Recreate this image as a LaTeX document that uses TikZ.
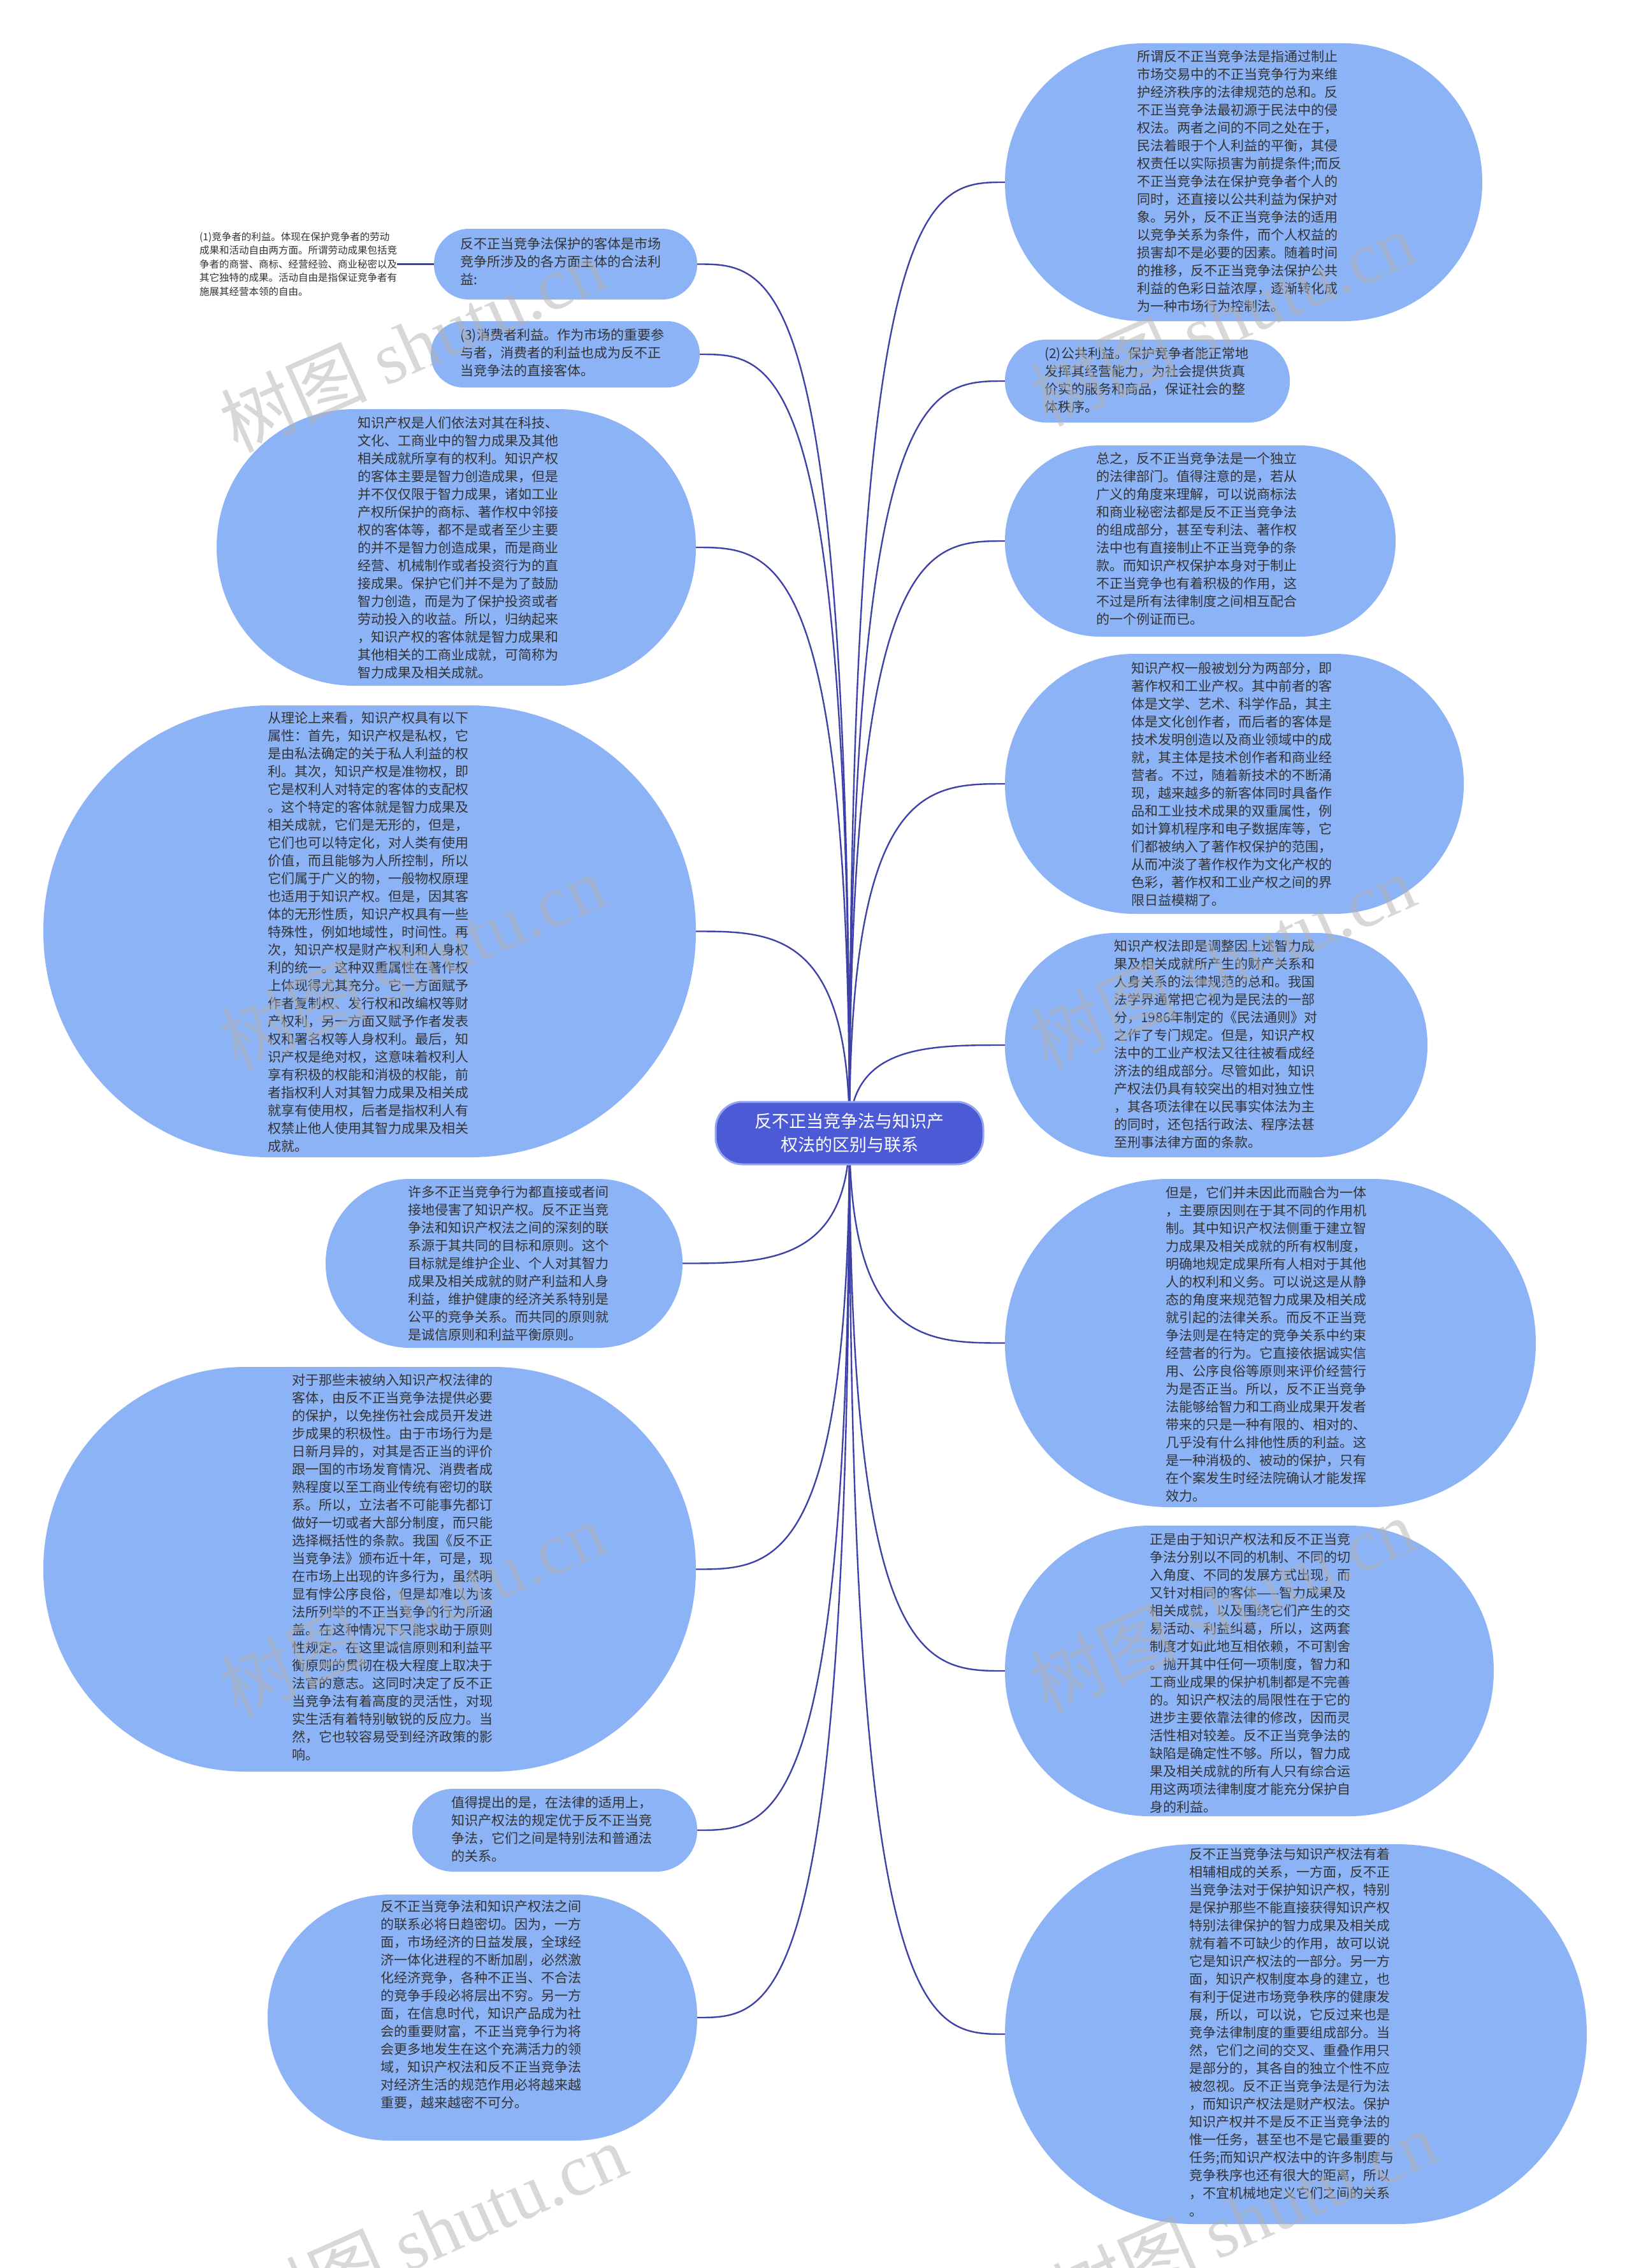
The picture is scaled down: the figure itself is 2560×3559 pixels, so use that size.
\documentclass[tikz,border=0pt]{standalone}
\usepackage{fontspec}
\setmainfont{Noto Sans CJK SC}
\newfontfamily\wmserif{Liberation Serif}
\usetikzlibrary{calc,backgrounds}
\definecolor{bubfill}{RGB}{141,179,247}
\definecolor{edgecol}{RGB}{62,66,168}
\definecolor{ctrfill}{RGB}{76,90,214}
\definecolor{ctrdraw}{RGB}{150,165,240}
\definecolor{txtcol}{RGB}{51,51,51}
\tikzset{
  bub/.style={draw=none, fill=bubfill, rectangle, inner sep=0pt},
  txt/.style={anchor=north west, inner sep=0pt, align=left, text=txtcol, font=\fontsize{21}{28}\selectfont},
  smalltxt/.style={anchor=west, inner sep=0pt, align=left, text=txtcol, font=\fontsize{15.5}{21.5}\selectfont},
  link/.style={draw=edgecol, line width=2.4pt},
  ctrbox/.style={rectangle, fill=ctrfill, draw=ctrdraw, line width=3pt, rounded corners=42pt, minimum width=420pt, minimum height=98pt, text=white, align=center, font=\fontsize{27}{37}\selectfont},
  wm/.style={text=black!30, opacity=0.5, rotate=24, inner sep=0pt, font=\fontsize{115}{120}\selectfont}
}
\newcommand\linkR[1]{\draw[link] (ctr.center) .. controls (ctr.center |- #1.west) and ($(ctr.center |- #1.west)!0.5!(#1.west)$) .. (#1.west);}
\newcommand\linkL[1]{\draw[link] (ctr.center) .. controls (ctr.center |- #1.east) and ($(ctr.center |- #1.east)!0.5!(#1.east)$) .. (#1.east);}
\begin{document}
\begin{tikzpicture}[x=1pt,y=-1pt]
\useasboundingbox (0,0) rectangle (2560,3559);

% ---------- bubbles ----------
\node[bub, minimum width=413pt, minimum height=111pt, rounded corners=55pt] (l1) at (887.5,414.5) {};
\node[bub, minimum width=422pt, minimum height=104pt, rounded corners=51pt] (l2) at (887,556) {};
\node[bub, minimum width=752pt, minimum height=434pt, rounded corners=216pt] (l3) at (716,859) {};
\node[bub, minimum width=1024pt, minimum height=709pt, rounded corners=354pt] (l4) at (580,1461.5) {};
\node[bub, minimum width=560pt, minimum height=265pt, rounded corners=132pt] (l5) at (791,1982.5) {};
\node[bub, minimum width=1024pt, minimum height=635pt, rounded corners=317pt] (l6) at (580,2462.5) {};
\node[bub, minimum width=447pt, minimum height=130pt, rounded corners=64pt] (l7) at (870.5,2872) {};
\node[bub, minimum width=674pt, minimum height=386pt, rounded corners=192pt] (l8) at (757,3166) {};

\node[bub, minimum width=749pt, minimum height=436pt, rounded corners=217pt] (r1) at (1951.5,286) {};
\node[bub, minimum width=447pt, minimum height=130pt, rounded corners=64pt] (r2) at (1800.5,598) {};
\node[bub, minimum width=613pt, minimum height=300pt, rounded corners=149pt] (r3) at (1883.5,849) {};
\node[bub, minimum width=720pt, minimum height=408pt, rounded corners=203pt] (r4) at (1937,1230) {};
\node[bub, minimum width=663pt, minimum height=352pt, rounded corners=175pt] (r5) at (1908.5,1640) {};
\node[bub, minimum width=833pt, minimum height=515pt, rounded corners=257pt] (r6) at (1993.5,2107.5) {};
\node[bub, minimum width=767pt, minimum height=456pt, rounded corners=227pt] (r7) at (1960.5,2622) {};
\node[bub, minimum width=913pt, minimum height=596pt, rounded corners=297pt] (r8) at (2033.5,3192) {};

% ---------- centre ----------
\node[ctrbox] (ctr) at (1333,1778) {反不正当竞争法与知识产\\权法的区别与联系};

% ---------- connectors ----------
\begin{pgfonlayer}{background}
\fill[white] (0,0) rectangle (2560,3559);
\linkR{r1}\linkR{r2}\linkR{r3}\linkR{r4}\linkR{r5}\linkR{r6}\linkR{r7}\linkR{r8}
\linkL{l1}\linkL{l2}\linkL{l3}\linkL{l4}\linkL{l5}\linkL{l6}\linkL{l7}\linkL{l8}
\end{pgfonlayer}

% ---------- texts ----------
\node[smalltxt] (l0) at (313,414.5) {(1)竞争者的利益。体现在保护竞争者的劳动\\成果和活动自由两方面。所谓劳动成果包括竞\\争者的商誉、商标、经营经验、商业秘密以及\\其它独特的成果。活动自由是指保证竞争者有\\施展其经营本领的自由。};
\draw[link] (l0.east) -- (l1.west);

\node[txt] (l1t) at (722,372) {反不正当竞争法保护的客体是市场\\竞争所涉及的各方面主体的合法利\\益:};
\node[txt] (l2t) at (722,515) {(3)消费者利益。作为市场的重要参\\与者，消费者的利益也成为反不正\\当竞争法的直接客体。};
\node[txt] (l3t) at (561,654) {知识产权是人们依法对其在科技、\\文化、工商业中的智力成果及其他\\相关成就所享有的权利。知识产权\\的客体主要是智力创造成果，但是\\并不仅仅限于智力成果，诸如工业\\产权所保护的商标、著作权中邻接\\权的客体等，都不是或者至少主要\\的并不是智力创造成果，而是商业\\经营、机械制作或者投资行为的直\\接成果。保护它们并不是为了鼓励\\智力创造，而是为了保护投资或者\\劳动投入的收益。所以，归纳起来\\，知识产权的客体就是智力成果和\\其他相关的工商业成就，可简称为\\智力成果及相关成就。};
\node[txt] (l4t) at (420,1117) {从理论上来看，知识产权具有以下\\属性：首先，知识产权是私权，它\\是由私法确定的关于私人利益的权\\利。其次，知识产权是准物权，即\\它是权利人对特定的客体的支配权\\。这个特定的客体就是智力成果及\\相关成就，它们是无形的，但是，\\它们也可以特定化，对人类有使用\\价值，而且能够为人所控制，所以\\它们属于广义的物，一般物权原理\\也适用于知识产权。但是，因其客\\体的无形性质，知识产权具有一些\\特殊性，例如地域性，时间性。再\\次，知识产权是财产权利和人身权\\利的统一。这种双重属性在著作权\\上体现得尤其充分。它一方面赋予\\作者复制权、发行权和改编权等财\\产权利，另一方面又赋予作者发表\\权和署名权等人身权利。最后，知\\识产权是绝对权，这意味着权利人\\享有积极的权能和消极的权能，前\\者指权利人对其智力成果及相关成\\就享有使用权，后者是指权利人有\\权禁止他人使用其智力成果及相关\\成就。};
\node[txt] (l5t) at (640,1861) {许多不正当竞争行为都直接或者间\\接地侵害了知识产权。反不正当竞\\争法和知识产权法之间的深刻的联\\系源于其共同的目标和原则。这个\\目标就是维护企业、个人对其智力\\成果及相关成就的财产利益和人身\\利益，维护健康的经济关系特别是\\公平的竞争关系。而共同的原则就\\是诚信原则和利益平衡原则。};
\node[txt] (l6t) at (458,2156) {对于那些未被纳入知识产权法律的\\客体，由反不正当竞争法提供必要\\的保护，以免挫伤社会成员开发进\\步成果的积极性。由于市场行为是\\日新月异的，对其是否正当的评价\\跟一国的市场发育情况、消费者成\\熟程度以至工商业传统有密切的联\\系。所以，立法者不可能事先都订\\做好一切或者大部分制度，而只能\\选择概括性的条款。我国《反不正\\当竞争法》颁布近十年，可是，现\\在市场上出现的许多行为，虽然明\\显有悖公序良俗，但是却难以为该\\法所列举的不正当竞争的行为所涵\\盖。在这种情况下只能求助于原则\\性规定。在这里诚信原则和利益平\\衡原则的贯彻在极大程度上取决于\\法官的意志。这同时决定了反不正\\当竞争法有着高度的灵活性，对现\\实生活有着特别敏锐的反应力。当\\然，它也较容易受到经济政策的影\\响。};
\node[txt] (l7t) at (708,2819) {值得提出的是，在法律的适用上，\\知识产权法的规定优于反不正当竞\\争法，它们之间是特别法和普通法\\的关系。};
\node[txt] (l8t) at (597,2982) {反不正当竞争法和知识产权法之间\\的联系必将日趋密切。因为，一方\\面，市场经济的日益发展，全球经\\济一体化进程的不断加剧，必然激\\化经济竞争，各种不正当、不合法\\的竞争手段必将层出不穷。另一方\\面，在信息时代，知识产品成为社\\会的重要财富，不正当竞争行为将\\会更多地发生在这个充满活力的领\\域，知识产权法和反不正当竞争法\\对经济生活的规范作用必将越来越\\重要，越来越密不可分。};

\node[txt] (r1t) at (1784,79) {所谓反不正当竞争法是指通过制止\\市场交易中的不正当竞争行为来维\\护经济秩序的法律规范的总和。反\\不正当竞争法最初源于民法中的侵\\权法。两者之间的不同之处在于，\\民法着眼于个人利益的平衡，其侵\\权责任以实际损害为前提条件;而反\\不正当竞争法在保护竞争者个人的\\同时，还直接以公共利益为保护对\\象。另外，反不正当竞争法的适用\\以竞争关系为条件，而个人权益的\\损害却不是必要的因素。随着时间\\的推移，反不正当竞争法保护公共\\利益的色彩日益浓厚，逐渐转化成\\为一种市场行为控制法。};
\node[txt] (r2t) at (1639,545) {(2)公共利益。保护竞争者能正常地\\发挥其经营能力，为社会提供货真\\价实的服务和商品，保证社会的整\\体秩序。};
\node[txt] (r3t) at (1720,710) {总之，反不正当竞争法是一个独立\\的法律部门。值得注意的是，若从\\广义的角度来理解，可以说商标法\\和商业秘密法都是反不正当竞争法\\的组成部分，甚至专利法、著作权\\法中也有直接制止不正当竞争的条\\款。而知识产权保护本身对于制止\\不正当竞争也有着积极的作用，这\\不过是所有法律制度之间相互配合\\的一个例证而已。};
\node[txt] (r4t) at (1775,1039) {知识产权一般被划分为两部分，即\\著作权和工业产权。其中前者的客\\体是文学、艺术、科学作品，其主\\体是文化创作者，而后者的客体是\\技术发明创造以及商业领域中的成\\就，其主体是技术创作者和商业经\\营者。不过，随着新技术的不断涌\\现，越来越多的新客体同时具备作\\品和工业技术成果的双重属性，例\\如计算机程序和电子数据库等，它\\们都被纳入了著作权保护的范围，\\从而冲淡了著作权作为文化产权的\\色彩，著作权和工业产权之间的界\\限日益模糊了。};
\node[txt] (r5t) at (1748,1475) {知识产权法即是调整因上述智力成\\果及相关成就所产生的财产关系和\\人身关系的法律规范的总和。我国\\法学界通常把它视为是民法的一部\\分，1986年制定的《民法通则》对\\之作了专门规定。但是，知识产权\\法中的工业产权法又往往被看成经\\济法的组成部分。尽管如此，知识\\产权法仍具有较突出的相对独立性\\，其各项法律在以民事实体法为主\\的同时，还包括行政法、程序法甚\\至刑事法律方面的条款。};
\node[txt] (r6t) at (1829,1861) {但是，它们并未因此而融合为一体\\，主要原因则在于其不同的作用机\\制。其中知识产权法侧重于建立智\\力成果及相关成就的所有权制度，\\明确地规定成果所有人相对于其他\\人的权利和义务。可以说这是从静\\态的角度来规范智力成果及相关成\\就引起的法律关系。而反不正当竞\\争法则是在特定的竞争关系中约束\\经营者的行为。它直接依据诚实信\\用、公序良俗等原则来评价经营行\\为是否正当。所以，反不正当竞争\\法能够给智力和工商业成果开发者\\带来的只是一种有限的、相对的、\\几乎没有什么排他性质的利益。这\\是一种消极的、被动的保护，只有\\在个案发生时经法院确认才能发挥\\效力。};
\node[txt] (r7t) at (1804,2406) {正是由于知识产权法和反不正当竞\\争法分别以不同的机制、不同的切\\入角度、不同的发展方式出现，而\\又针对相同的客体——智力成果及\\相关成就，以及围绕它们产生的交\\易活动、利益纠葛，所以，这两套\\制度才如此地互相依赖，不可割舍\\。抛开其中任何一项制度，智力和\\工商业成果的保护机制都是不完善\\的。知识产权法的局限性在于它的\\进步主要依靠法律的修改，因而灵\\活性相对较差。反不正当竞争法的\\缺陷是确定性不够。所以，智力成\\果及相关成就的所有人只有综合运\\用这两项法律制度才能充分保护自\\身的利益。};
\node[txt] (r8t) at (1866,2900) {反不正当竞争法与知识产权法有着\\相辅相成的关系，一方面，反不正\\当竞争法对于保护知识产权，特别\\是保护那些不能直接获得知识产权\\特别法律保护的智力成果及相关成\\就有着不可缺少的作用，故可以说\\它是知识产权法的一部分。另一方\\面，知识产权制度本身的建立，也\\有利于促进市场竞争秩序的健康发\\展，所以，可以说，它反过来也是\\竞争法律制度的重要组成部分。当\\然，它们之间的交叉、重叠作用只\\是部分的，其各自的独立个性不应\\被忽视。反不正当竞争法是行为法\\，而知识产权法是财产权法。保护\\知识产权并不是反不正当竞争法的\\惟一任务，甚至也不是它最重要的\\任务;而知识产权法中的许多制度与\\竞争秩序也还有很大的距离，所以\\，不宜机械地定义它们之间的关系\\。};

% ---------- watermarks ----------
\node[wm] (w1) at (647,540) {树图 {\wmserif shutu.cn}};
\node[wm] (w2) at (647,1509) {树图 {\wmserif shutu.cn}};
\node[wm] (w3) at (647,2525) {树图 {\wmserif shutu.cn}};
\node[wm] (w4) at (681,3500) {树图 {\wmserif shutu.cn}};
\node[wm] (w5) at (1918,499) {树图 {\wmserif shutu.cn}};
\node[wm] (w6) at (1918,1509) {树图 {\wmserif shutu.cn}};
\node[wm] (w7) at (1918,2519) {树图 {\wmserif shutu.cn}};
\node[wm] (w8) at (1952,3480) {树图 {\wmserif shutu.cn}};
\end{tikzpicture}
\end{document}
